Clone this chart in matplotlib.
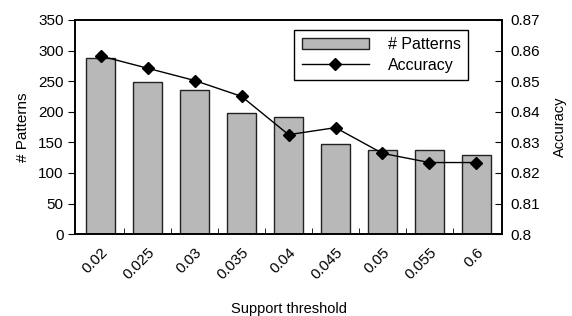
import matplotlib
matplotlib.use("Agg")
import matplotlib.pyplot as plt
import numpy as np

plt.rcParams['font.family'] = ['Liberation Sans', 'DejaVu Sans']
plt.rcParams['font.size'] = 11

# data
thresholds = ["0.02", "0.025", "0.03", "0.035", "0.04", "0.045", "0.05", "0.055", "0.6"]
patterns = [288, 249, 235, 198, 191, 147, 137, 137, 129]
accuracy = [0.8582, 0.8542, 0.8502, 0.8450, 0.8325, 0.8348, 0.8264, 0.8234, 0.8234]
acc_ticks = [0.80, 0.81, 0.82, 0.83, 0.84, 0.85, 0.86, 0.87]

x = np.arange(len(thresholds))

fig = plt.figure(figsize=(5.72, 3.16), dpi=100)
ax = fig.add_axes([0.131, 0.259, 0.747, 0.678])

bars = ax.bar(x, patterns, width=0.62, color="#b8b8b8", edgecolor="#222222",
              linewidth=1.0, label="# Patterns")
ax.set_xlim(-0.55, len(x) - 0.45)
ax.set_ylim(0, 350)
ax.set_yticks(np.arange(0, 351, 50))
ax.set_ylabel("# Patterns", labelpad=6)
ax.set_xlabel("Support threshold", fontsize=10.5, labelpad=14)

# category labels in the middle, small tick marks between the bars
ax.set_xticks(x)
ax.set_xticklabels(thresholds, rotation=45, ha="right", rotation_mode="anchor")
ax.tick_params(axis="x", length=0, pad=8)
ax.set_xticks(x[:-1] + 0.5, minor=True)
ax.tick_params(axis="x", which="minor", direction="in", length=4)
ax.tick_params(axis="y", direction="out", length=5, pad=3)

ax2 = ax.twinx()
line, = ax2.plot(x, accuracy, color="black", linewidth=1.0, marker="D",
                 markersize=6, label="Accuracy")
ax2.set_ylim(0.8, 0.87)
ax2.set_yticks(acc_ticks)
ax2.set_yticklabels([f"{v:g}" for v in acc_ticks])
ax2.tick_params(axis="y", direction="in", length=5, pad=6)
ax2.set_ylabel("Accuracy", fontsize=10.5, labelpad=9)

for a in (ax, ax2):
    for s in a.spines.values():
        s.set_linewidth(1.2)

leg = ax.legend([bars, line], ["# Patterns", "Accuracy"], loc="upper left",
                bbox_to_anchor=(0.495, 0.99), fancybox=False, framealpha=1,
                edgecolor="black", handlelength=4.2, handletextpad=1.2,
                borderpad=0.45, labelspacing=0.35, fontsize=11.5)
leg.get_frame().set_linewidth(1.0)

fig.savefig("out.png", dpi=100)
